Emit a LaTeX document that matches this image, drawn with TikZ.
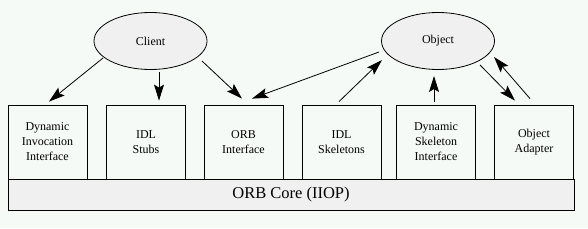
\documentclass[tikz,border=0pt]{standalone}
\usepackage{fontspec}
\setmainfont{Liberation Serif}
\usetikzlibrary{arrows.meta, calc, shapes.geometric}
\definecolor{bgcol}{RGB}{246, 250, 246}
\definecolor{greycol}{RGB}{240, 240, 240}
\definecolor{linecol}{RGB}{0, 0, 0}
\tikzset{
  part/.style  = {draw=linecol, line width=0.8pt, fill=bgcol, align=center,
                  minimum width=79pt, minimum height=74pt, inner sep=1pt,
                  font=\fontsize{12}{15}\selectfont},
  actor/.style = {ellipse, draw=linecol, line width=0.8pt, fill=greycol,
                  minimum width=113pt, minimum height=57pt, inner sep=0pt,
                  font=\fontsize{12}{15}\selectfont},
  bus/.style   = {draw=linecol, line width=0.8pt, fill=greycol,
                  minimum width=566pt, minimum height=31pt, inner sep=0pt,
                  font=\fontsize{16.5}{18}\selectfont},
  call/.style  = {-{Stealth[length=16pt, width=10pt, inset=3pt]},
                  draw=linecol, line width=0.8pt},
}
\begin{document}
\begin{tikzpicture}[x=1pt, y=1pt]

  \fill[bgcol] (0,0) rectangle (588,228);
  \useasboundingbox (0,0) rectangle (588,228);

  %% ---------------- the core and its parts ----------------
  \node[bus] (core) at (291,33.5) {ORB Core (IIOP)};

  \node[part] (dii)     at (47.5,86) {Dynamic\\Invocation\\Interface};
  \node[part] (stubs)   at (146,86)  {IDL\\Stubs};
  \node[part] (orbi)    at (243.5,86) {ORB\\Interface};
  \node[part] (skel)    at (341.5,86) {IDL\\Skeletons};
  \node[part] (dsi)     at (436,86)  {Dynamic\\Skeleton\\Interface};
  \node[part] (adapter) at (534,86)  {Object\\Adapter};

  %% ---------------- the two ends ----------------
  \node[actor] (client) at (150.5,187) {Client};
  \node[actor] (obj)    at (438,187)   {Object};

  %% ---------------- the calls ----------------
  \draw[call] ($(client)+(-47.5,-17)$) -- ($(dii.north)+(1.5,3)$);
  \draw[call] ($(client)+(8.5,-31)$)   -- ($(stubs.north)+(13,4)$);
  \draw[call] ($(client)+(51.5,-20)$)  -- ($(orbi.north)+(-1.5,6)$);
  \draw[call] ($(obj)+(-59,-11)$)      -- ($(orbi.north)+(8.5,6)$);
  \draw[call] ($(skel.north)+(-2.5,3)$) -- ($(obj)+(-56,-19)$);
  \draw[call] ($(dsi.north)+(-2,3)$)   -- ($(obj)+(-4,-35)$);
  \draw[call] ($(obj)+(42,-24)$)       -- ($(adapter.north)+(-19,4)$);
  \draw[call] ($(adapter.north)+(-4,6)$) -- ($(obj)+(56,-16)$);

\end{tikzpicture}
\end{document}
